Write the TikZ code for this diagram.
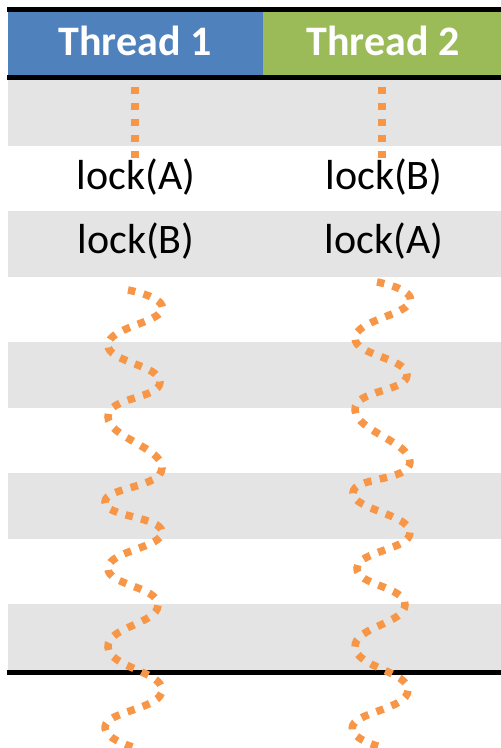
\documentclass[tikz,border=0pt]{standalone}
\usepackage{fontspec}
\setmainfont{Carlito}
\definecolor{tblue}{HTML}{4F81BD}
\definecolor{tgreen}{HTML}{9BBB59}
\definecolor{tgray}{HTML}{E4E4E4}
\definecolor{torange}{HTML}{F79646}
\tikzset{
  headtext/.style={text=white, font=\bfseries\fontsize{42}{50}\selectfont, anchor=base, inner sep=0pt},
  celltext/.style={text=black, font=\fontsize{42}{50}\selectfont, anchor=base, inner sep=0pt},
  rule/.style={black, line width=5pt},
  dotline/.style={torange, line width=7.5pt, dash pattern=on 7.5pt off 8.5pt},
  wave/.style={dotline, smooth, tension=0.85}
}
\begin{document}
\begin{tikzpicture}[x=1pt, y=-1pt]
\useasboundingbox (0,0) rectangle (501,748);
\fill[white] (0,0) rectangle (501,748);
% header
\fill[tblue] (8,12) rectangle (263,75);
\fill[tgreen] (263,12) rectangle (501,75);
% gray rows
\foreach \r in {0,2,4,6,8} {
  \fill[tgray] (8,{80+\r*65.56}) rectangle (501,{80+(\r+1)*65.56});
}
% rules
\draw[rule] (7,9.5) -- (501,9.5);
\draw[rule] (7,77.5) -- (501,77.5);
\draw[rule] (7,672.5) -- (501,672.5);
% header texts
\node[headtext] (h1) at (135,55) {Thread 1};
\node[headtext] (h2) at (383,55) {Thread 2};
% vertical dotted lines
\coordinate (v1s) at (135,86.7);
\coordinate (v1e) at (135,166);
\coordinate (v2s) at (382,86.7);
\coordinate (v2e) at (382,166);
\draw[dotline] (v1s) -- (v1e);
\draw[dotline] (v2s) -- (v2e);
% cell texts
\node[celltext] (a1) at (136,189) {lock(A)};
\node[celltext] (a2) at (136,253) {lock(B)};
\node[celltext] (b1) at (384,189) {lock(B)};
\node[celltext] (b2) at (384,253) {lock(A)};
% waves
\draw[wave] plot coordinates {(128,290) (162,310) (108,345) (160,382) (108,417) (162,468) (105,502) (162,532) (108,568) (158,605) (108,647) (162,690) (106,724) (133,747)};
\draw[wave] plot coordinates {(377,282) (410,302) (355,338) (407,375) (355,410) (410,462) (353,493) (410,532) (357,568) (405,605) (355,647) (408,690) (353,725) (381,747)};
\end{tikzpicture}
\end{document}
